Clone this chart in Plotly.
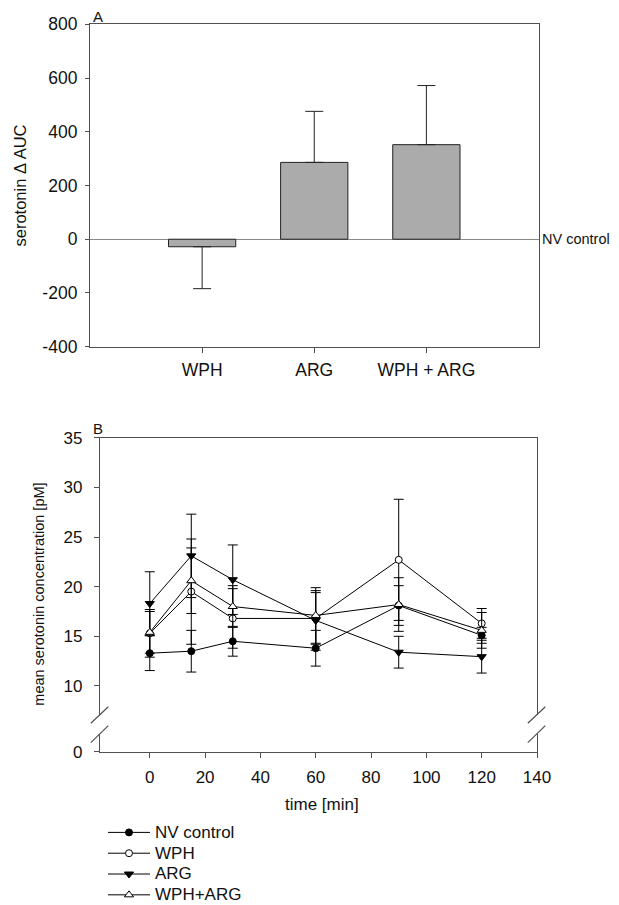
import plotly.graph_objects as go

W, H = 619, 905          # browser window size
OFF = 8                  # page body margin that offsets the figure
FIG_W, FIG_H = W - OFF, H - OFF
FONT = "Arial, Liberation Sans, sans-serif"

# ---------------- Panel A data ----------------
groups = ["WPH", "ARG", "WPH + ARG"]
auc_mean = [-28, 286, 352]
auc_err_up = [0, 190, 220]
auc_err_down = [156, 0, 0]
yticks_a = [-400, -200, 0, 200, 400, 600, 800]

# ---------------- Panel B data ----------------
time_min = [0, 15, 30, 60, 90, 120]
nv_mean = [13.3, 13.5, 14.5, 13.8, 18.1, 15.1]
nv_err = [1.75, 2.1, 1.5, 1.8, 2.0, 0.8]
wph_mean = [15.3, 19.5, 16.8, 16.8, 22.7, 16.3]
wph_err = [2.4, 5.3, 3.0, 2.6, 6.1, 1.5]
arg_mean = [18.3, 23.1, 20.7, 16.6, 13.4, 12.95]
arg_err = [3.2, 4.2, 3.5, 3.0, 1.6, 1.65]
wa_mean = [15.4, 20.6, 18.0, 17.1, 18.2, 15.6]
wa_err = [2.1, 3.3, 2.1, 2.8, 2.7, 1.8]

series_names = ["NV control", "WPH", "ARG", "WPH+ARG"]
yticks_b = [10, 15, 20, 25, 30, 35]
xticks_b = [0, 20, 40, 60, 80, 100, 120, 140]

# broken axis: "0" is drawn at this position of the linear axis
ZERO_POS = 3.38

def px_x(p):
    return (p - OFF) / FIG_W

def px_y(p):
    return 1 - (p - OFF) / FIG_H

fig = go.Figure()

fig.add_trace(go.Bar(
    x=groups, y=auc_mean, width=0.6,
    marker=dict(color="#ababab", line=dict(color="#222", width=1)),
    error_y=dict(type="data", symmetric=False, array=auc_err_up,
                 arrayminus=auc_err_down, color="#222", thickness=1, width=9),
    xaxis="x", yaxis="y", showlegend=False,
))

styles = [
    (nv_mean, nv_err, dict(symbol="circle", color="black", size=7,
                           line=dict(color="black", width=1))),
    (wph_mean, wph_err, dict(symbol="circle", color="white", size=7,
                             line=dict(color="black", width=1))),
    (arg_mean, arg_err, dict(symbol="triangle-down", color="black", size=8,
                             line=dict(color="black", width=1))),
    (wa_mean, wa_err, dict(symbol="triangle-up", color="white", size=8,
                           line=dict(color="black", width=1))),
]
for name, (m, e, mk) in zip(series_names, styles):
    fig.add_trace(go.Scatter(
        x=time_min, y=m,
        name='<span style="font-size:17px">%s</span>' % name,
        mode="lines+markers",
        line=dict(color="black", width=1), marker=mk,
        error_y=dict(type="data", array=e, color="black", thickness=1, width=5),
        xaxis="x2", yaxis="y2",
    ))

axcol = "#505050"
fig.update_layout(
    width=FIG_W, height=FIG_H,
    margin=dict(l=0, r=0, t=0, b=0, autoexpand=False),
    paper_bgcolor="white", plot_bgcolor="white",
    font=dict(family=FONT, color="#111", size=16),
    showlegend=True,
    legend=dict(x=px_x(103), y=px_y(817), xanchor="left", yanchor="top",
                font=dict(size=13.7, family=FONT), itemwidth=42,
                bgcolor="rgba(0,0,0,0)", tracegroupgap=0),
    xaxis=dict(domain=[px_x(90), px_x(538.5)], range=[-1, 3],
               showline=True, linecolor=axcol, linewidth=1.2, mirror=True,
               ticks="outside", ticklen=5, tickcolor=axcol,
               tickfont=dict(size=17.5), showgrid=False, zeroline=False,
               ticklabelstandoff=2, anchor="y"),
    yaxis=dict(domain=[px_y(346.7), px_y(24.3)], range=[-400, 800],
               tickvals=yticks_a, ticktext=[str(v) for v in yticks_a],
               showline=True, linecolor=axcol, linewidth=1.2, mirror=True,
               ticks="outside", ticklen=4, tickcolor=axcol,
               tickfont=dict(size=17.5), showgrid=False,
               zeroline=True, zerolinecolor="#8a8a8a", zerolinewidth=1.2,
               ticklabelstandoff=4, anchor="x"),
    xaxis2=dict(domain=[px_x(100), px_x(537)], range=[-18, 140],
                tickvals=xticks_b,
                showline=True, linecolor=axcol, linewidth=1.2, mirror=True,
                ticks="outside", ticklen=5, tickcolor=axcol,
                tickfont=dict(size=17), showgrid=False, zeroline=False,
                ticklabelstandoff=5, anchor="y2"),
    yaxis2=dict(domain=[px_y(751.7), px_y(437.7)], range=[ZERO_POS, 35],
                tickvals=[ZERO_POS] + yticks_b,
                ticktext=["0"] + [str(v) for v in yticks_b],
                showline=True, linecolor=axcol, linewidth=1.2, mirror=True,
                ticks="outside", ticklen=5, tickcolor=axcol,
                tickfont=dict(size=17), showgrid=False, zeroline=False,
                ticklabelstandoff=8, anchor="x2"),
)

ann = [
    dict(text="A", x=px_x(97.5), y=px_y(16), size=15),
    dict(text="B", x=px_x(98), y=px_y(428), size=15),
    dict(text="serotonin \u0394 AUC", x=px_x(19), y=px_y(185.5), size=16.5, angle=-90),
    dict(text="mean serotonin concentration [pM]", x=px_x(39), y=px_y(594.7), size=14.5, angle=-90),
    dict(text="time [min]", x=px_x(322), y=px_y(804), size=17),
]
for a in ann:
    fig.add_annotation(text=a["text"], x=a["x"], y=a["y"], xref="paper", yref="paper",
                       showarrow=False, xanchor="center", yanchor="middle",
                       textangle=a.get("angle", 0), font=dict(size=a["size"], family=FONT))

fig.add_annotation(text="NV control", x=px_x(541), y=0, xref="paper", yref="y",
                   showarrow=False, xanchor="left", yanchor="middle", borderpad=0,
                   font=dict(size=14.5, family=FONT))

# axis break marks on panel B (left and right axes)
for xc in (0, 1):
    fig.add_shape(type="rect", xref="x2 domain", yref="y2",
                  x0=xc - 0.006, x1=xc + 0.006, y0=5.15, y1=7.07,
                  fillcolor="white", line=dict(width=0), layer="above")
    for (ya, yb) in ((6.24, 7.91), (4.29, 6.0)):
        fig.add_shape(type="line", xref="x2 domain", yref="y2",
                      x0=xc - 0.021, x1=xc + 0.019, y0=ya, y1=yb,
                      line=dict(color=axcol, width=1.2), layer="above")

fig.write_html("out.html")
